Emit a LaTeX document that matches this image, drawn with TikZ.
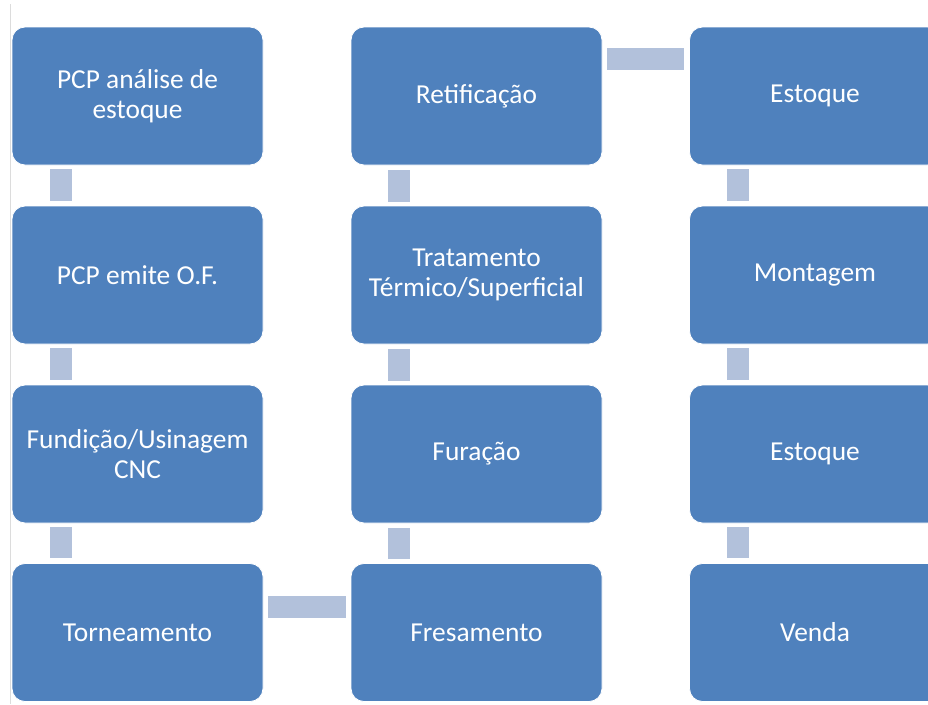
\documentclass[tikz,border=0pt]{standalone}
\usepackage{fontspec}
\setmainfont{Carlito}
\definecolor{boxblue}{HTML}{4F81BD}
\definecolor{barblue}{HTML}{B2C1DB}
\definecolor{edgegray}{HTML}{DCDCDC}
\begin{document}
\begin{tikzpicture}[x=1pt,y=-1pt,
  stepbox/.style={draw=white, line width=0.8pt, fill=boxblue, rounded corners=13pt,
    minimum width=251pt, minimum height=138pt, inner sep=0pt,
    text=white, align=center,
    font=\fontsize{27.4}{29.5}\selectfont},
  vbar/.style={draw=barblue, line width=22pt, shorten <=4pt, shorten >=5pt},
  hbar/.style={draw=barblue, line width=22pt, shorten <=5pt, shorten >=5pt}]
\useasboundingbox (0,0) rectangle (928,704);
\clip (0,0) rectangle (928,704);
\fill[white] (0,0) rectangle (928,704);
% thin rule along the left margin
\draw[edgegray, line width=1pt] (10,4) -- (10,704);

% first column
\node[stepbox] (a1) at (137.5,96)  {PCP análise de\\estoque};
\node[stepbox] (a2) at (137.5,275) {PCP emite O.F.};
\node[stepbox] (a3) at (137.5,454) {Fundição/Usinagem\\CNC};
\node[stepbox] (a4) at (137.5,632.5) {Torneamento};
% second column
\node[stepbox] (b1) at (476.5,96)  {Retificação};
\node[stepbox] (b2) at (476.5,275) {Tratamento\\Térmico/Superficial};
\node[stepbox] (b3) at (476.5,454) {Furação};
\node[stepbox] (b4) at (476.5,632.5) {Fresamento};
% third column
\node[stepbox] (c1) at (815,96)  {Estoque};
\node[stepbox] (c2) at (815,275) {Montagem};
\node[stepbox] (c3) at (815,454) {Estoque};
\node[stepbox] (c4) at (815,632.5) {Venda};

% vertical links
\draw[vbar] ([xshift=49pt]a1.south west) -- ([xshift=49pt]a2.north west);
\draw[vbar] ([xshift=49pt]a2.south west) -- ([xshift=49pt]a3.north west);
\draw[vbar] ([xshift=49pt]a3.south west) -- ([xshift=49pt]a4.north west);
\draw[vbar] ([xshift=48pt]b4.north west) -- ([xshift=48pt]b3.south west);
\draw[vbar] ([xshift=48pt]b3.north west) -- ([xshift=48pt]b2.south west);
\draw[vbar] ([xshift=48pt]b2.north west) -- ([xshift=48pt]b1.south west);
\draw[vbar] ([xshift=49pt]c1.south west) -- ([xshift=49pt]c2.north west);
\draw[vbar] ([xshift=49pt]c2.south west) -- ([xshift=49pt]c3.north west);
\draw[vbar] ([xshift=49pt]c3.south west) -- ([xshift=49pt]c4.north west);
% horizontal links
\draw[hbar] ([yshift=-44pt]a4.north east) -- ([yshift=-44pt]b4.north west);
\draw[hbar] ([yshift=-32pt]b1.north east) -- ([yshift=-32pt]c1.north west);
\end{tikzpicture}
\end{document}
